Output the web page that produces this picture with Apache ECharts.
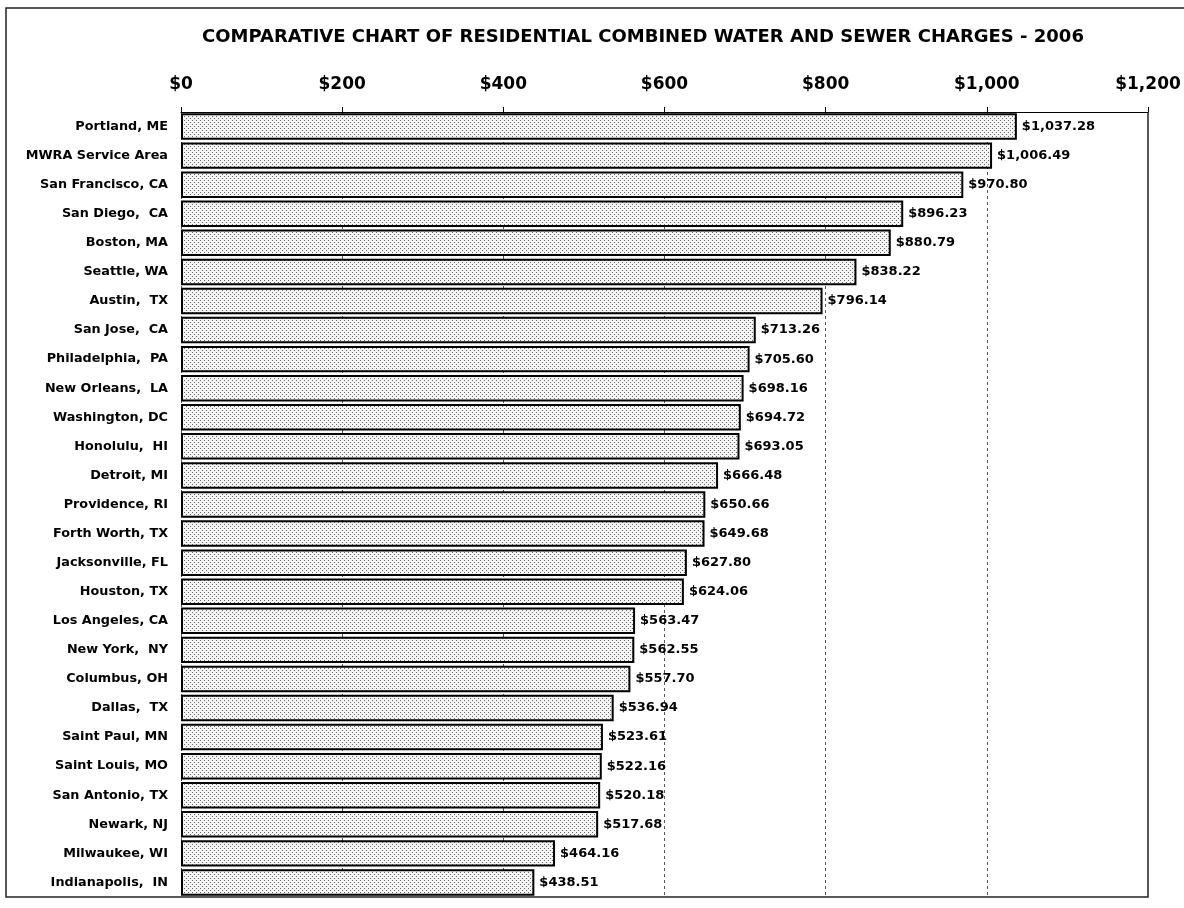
<!DOCTYPE html>
<html><head><meta charset="utf-8">
<script src="https://cdn.jsdelivr.net/npm/echarts@6/dist/echarts.min.js"></script>
<style>html,body{margin:0;padding:0;background:#fff}#c{width:1184px;height:908px}</style>
</head><body><div id="c"></div>
<script>
const categories = ["Portland, ME","MWRA Service Area","San Francisco, CA","San Diego,  CA","Boston, MA","Seattle, WA","Austin,  TX","San Jose,  CA","Philadelphia,  PA","New Orleans,  LA","Washington, DC","Honolulu,  HI","Detroit, MI","Providence, RI","Forth Worth, TX","Jacksonville, FL","Houston, TX","Los Angeles, CA","New York,  NY","Columbus, OH","Dallas,  TX","Saint Paul, MN","Saint Louis, MO","San Antonio, TX","Newark, NJ","Milwaukee, WI","Indianapolis,  IN"];
const charges = [1037.28,1006.49,970.80,896.23,880.79,838.22,796.14,713.26,705.60,698.16,694.72,693.05,666.48,650.66,649.68,627.80,624.06,563.47,562.55,557.70,536.94,523.61,522.16,520.18,517.68,464.16,438.51];
const tickValues = [0,200,400,600,800,1000,1200];

function fmt(v){return '$'+v.toLocaleString('en-US',{minimumFractionDigits:2,maximumFractionDigits:2});}
function fmtTick(v){return '$'+v.toLocaleString('en-US');}

const pc = document.createElement('canvas');
pc.width = 4; pc.height = 4;
const g = pc.getContext('2d');
g.fillStyle = '#f4f4f4'; g.fillRect(0,0,4,4);
g.fillStyle = '#6a6a6a'; g.fillRect(0,0,1,1); g.fillRect(2,2,1,1);

const chart = echarts.init(document.getElementById('c'));
const F = '"DejaVu Sans", Verdana, sans-serif';
chart.setOption({
  backgroundColor:'#fff',
  animation:false,
  title:{text:'COMPARATIVE CHART OF RESIDENTIAL COMBINED WATER AND SEWER CHARGES - 2006',left:638,textAlign:'center',top:23,
    textStyle:{fontFamily:F,fontSize:18,fontWeight:'bold',color:'#000'}},
  grid:{left:181,right:36,top:112,bottom:11,containLabel:false},
  xAxis:{type:'value',position:'top',min:0,max:1200,interval:200,
    axisLine:{show:true,lineStyle:{color:'#000',width:1}},
    axisTick:{show:true,length:5,lineStyle:{color:'#000'}},
    axisLabel:{margin:19,fontFamily:F,fontSize:17,fontWeight:'bold',color:'#000',formatter:fmtTick},
    splitLine:{show:true,lineStyle:{color:'#555',type:[3,3],width:1}}},
  yAxis:{type:'category',data:categories,inverse:true,
    axisLine:{show:false},axisTick:{show:false},
    axisLabel:{margin:13,fontFamily:F,fontSize:12.8,fontWeight:'bold',color:'#000'}},
  series:[{type:'bar',data:charges,barCategoryGap:'9%',
    itemStyle:{color:{image:pc,repeat:'repeat'},borderColor:'#000',borderWidth:2},
    label:{show:true,position:'right',distance:5,fontFamily:F,fontSize:13,fontWeight:'bold',color:'#000',formatter:p=>fmt(p.value)}}],
  graphic:[
    {type:'polyline',silent:true,shape:{points:[[1190,8],[6,8],[6,897],[1148,897],[1148,112]]},style:{stroke:'#222',lineWidth:1.5,fill:null}}
  ]
});
</script></body></html>
